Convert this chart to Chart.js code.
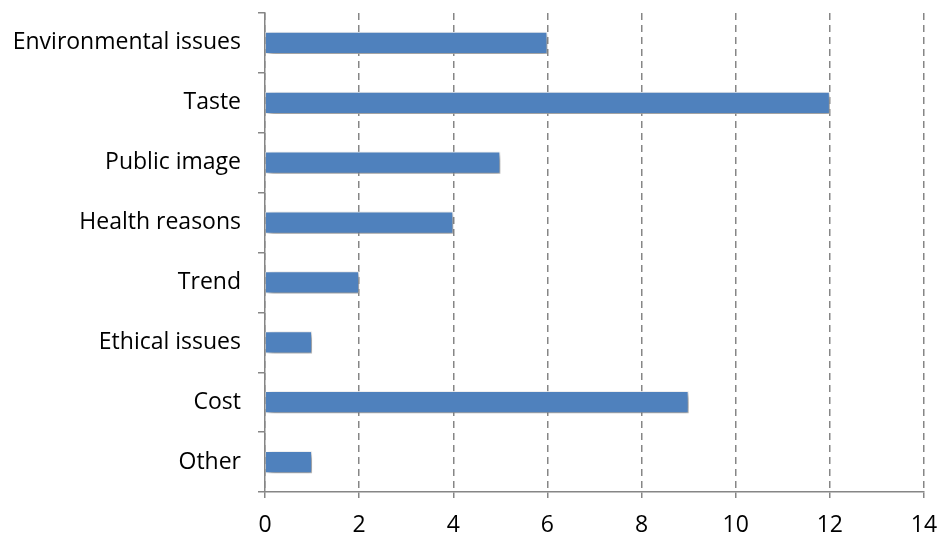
<!DOCTYPE html>
<html>
<head>
<meta charset="utf-8">
<script src="https://cdn.jsdelivr.net/npm/chart.js@4"></script>
<style>
    html, body { margin: 0; padding: 0; background: #fff; }
    #wrap { width: 941px; height: 540px; }
</style>
</head>
<body>
<div id="wrap"><canvas id="reasonsChart"></canvas></div>
<script>
const categories = ['Environmental issues', 'Taste', 'Public image', 'Health reasons', 'Trend', 'Ethical issues', 'Cost', 'Other'];
const counts = [6, 12, 5, 4, 2, 1, 9, 1];
const xTicks = [0, 2, 4, 6, 8, 10, 12, 14];

const axisGray = '#868686';
const labelFont = { family: '"Open Sans", sans-serif', size: 23 };

// soft drop shadow under the bars
const barShadow = {
    id: 'barShadow',
    beforeDatasetDraw(chart) {
        const ctx = chart.ctx;
        ctx.save();
        ctx.shadowColor = 'rgba(0, 0, 0, 0.45)';
        ctx.shadowBlur = 6;
        ctx.shadowOffsetX = 3;
        ctx.shadowOffsetY = 3;
    },
    afterDatasetDraw(chart) {
        chart.ctx.restore();
    }
};

new Chart(document.getElementById('reasonsChart'), {
    type: 'bar',
    data: {
        labels: categories,
        datasets: [{
            data: counts,
            backgroundColor: '#4F81BD',
            borderColor: 'rgba(255, 255, 255, 0.85)',
            borderWidth: 1,
            categoryPercentage: 1,
            barPercentage: 0.37
        }]
    },
    options: {
        indexAxis: 'y',
        responsive: true,
        maintainAspectRatio: false,
        animation: false,
        layout: { padding: { top: 13, right: 17, left: 0, bottom: 0 } },
        plugins: {
            legend: { display: false },
            tooltip: { enabled: false }
        },
        scales: {
            x: {
                min: 0,
                max: 14,
                afterBuildTicks: scale => { scale.ticks = xTicks.map(v => ({ value: v })); },
                afterFit: scale => {
                    scale.height = 48;
                    scale.paddingLeft = 0;
                    scale.paddingRight = 0;
                },
                grid: {
                    color: axisGray,
                    lineWidth: 1.5,
                    tickLength: 6,
                    tickBorderDash: [7, 5],
                    tickColor: axisGray
                },
                border: { display: true, color: axisGray, width: 1.5, dash: [7, 5] },
                ticks: {
                    color: '#000',
                    padding: 14,
                    font: labelFont
                }
            },
            y: {
                afterFit: scale => {
                    scale.width = 265;
                    scale.paddingTop = 0;
                    scale.paddingBottom = 0;
                },
                grid: {
                    drawOnChartArea: false,
                    offset: true,
                    tickLength: 7,
                    color: axisGray,
                    lineWidth: 1.5
                },
                border: { display: true, color: axisGray, width: 1.5 },
                ticks: {
                    color: '#000',
                    padding: 17,
                    font: labelFont
                }
            }
        }
    },
    plugins: [barShadow]
});
</script>
</body>
</html>
